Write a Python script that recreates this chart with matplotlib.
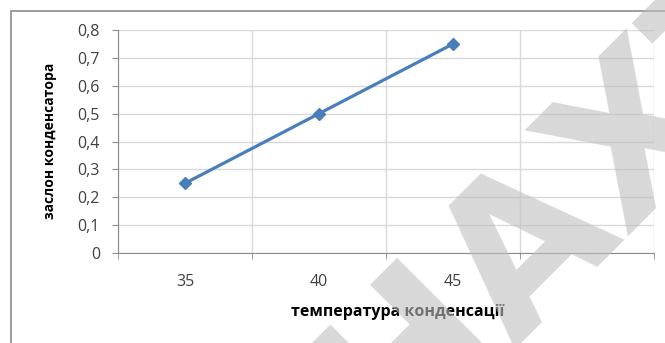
import matplotlib
matplotlib.use("Agg")
import matplotlib.pyplot as plt
from matplotlib.patches import Rectangle

# data
categories = ["35", "40", "45", ""]
values = [0.25, 0.5, 0.75]
y_ticks = [0, 0.1, 0.2, 0.3, 0.4, 0.5, 0.6, 0.7, 0.8]
x_title = "температура конденсації"
y_title = "заслон конденсатора"

plt.rcParams["font.family"] = ["Open Sans", "DejaVu Sans"]

fig = plt.figure(figsize=(6.65, 3.43), dpi=100)
ax = fig.add_axes([118 / 665, 1 - 253 / 343, 536 / 665, 223 / 343])

# outer chart border
fig.patches.append(Rectangle((11 / 665, -0.1), 1.2, 1.1 - 11 / 343, transform=fig.transFigure,
                             fill=False, edgecolor="#8c8c8c", lw=1.2, zorder=0))

x = list(range(len(values)))
ax.plot(x, values, color="#4a7ebb", lw=2.3, marker="D", markersize=6.5, zorder=3)

ax.set_xlim(-0.5, len(categories) - 0.5)
ax.set_ylim(0, 0.8)
ax.set_xticks(range(len(categories)))
ax.set_xticklabels(categories)
ax.set_xticks([i - 0.5 for i in range(len(categories) + 1)], minor=True)
ax.set_yticks(y_ticks)
ax.set_yticklabels([f"{v:g}".replace(".", ",") for v in y_ticks])

ax.grid(axis="y", which="major", color="#d9d9d9", lw=1)
ax.grid(axis="x", which="minor", color="#d9d9d9", lw=1)
ax.set_axisbelow(True)

for s in ["top", "right"]:
    ax.spines[s].set_visible(False)
ax.spines["left"].set_color("#8c8c8c")
ax.spines["bottom"].set_color("#8c8c8c")

ax.tick_params(axis="x", which="major", length=0, pad=15, labelsize=11.5, labelcolor="#404040")
ax.tick_params(axis="x", which="minor", length=4, color="#8c8c8c")
ax.tick_params(axis="y", length=4, color="#8c8c8c", pad=9, labelsize=11.5, labelcolor="#404040")

fig.text(398 / 665, 1 - 312 / 343, x_title, ha="center", va="center", fontsize=11.5, fontweight="bold")
fig.text(50 / 665, 1 - 141 / 343, y_title, ha="center", va="center", rotation=90,
         fontsize=10, fontweight="bold")

# watermark
fig.text(570 / 665, 1 - 197 / 343, "НАХТ", ha="center", va="center", rotation=45,
         fontsize=146, fontweight="bold", color="#bfbfbf", alpha=0.6,
         family=["Liberation Sans Narrow", "DejaVu Sans"], zorder=10)

fig.savefig("out.png", dpi=100)
